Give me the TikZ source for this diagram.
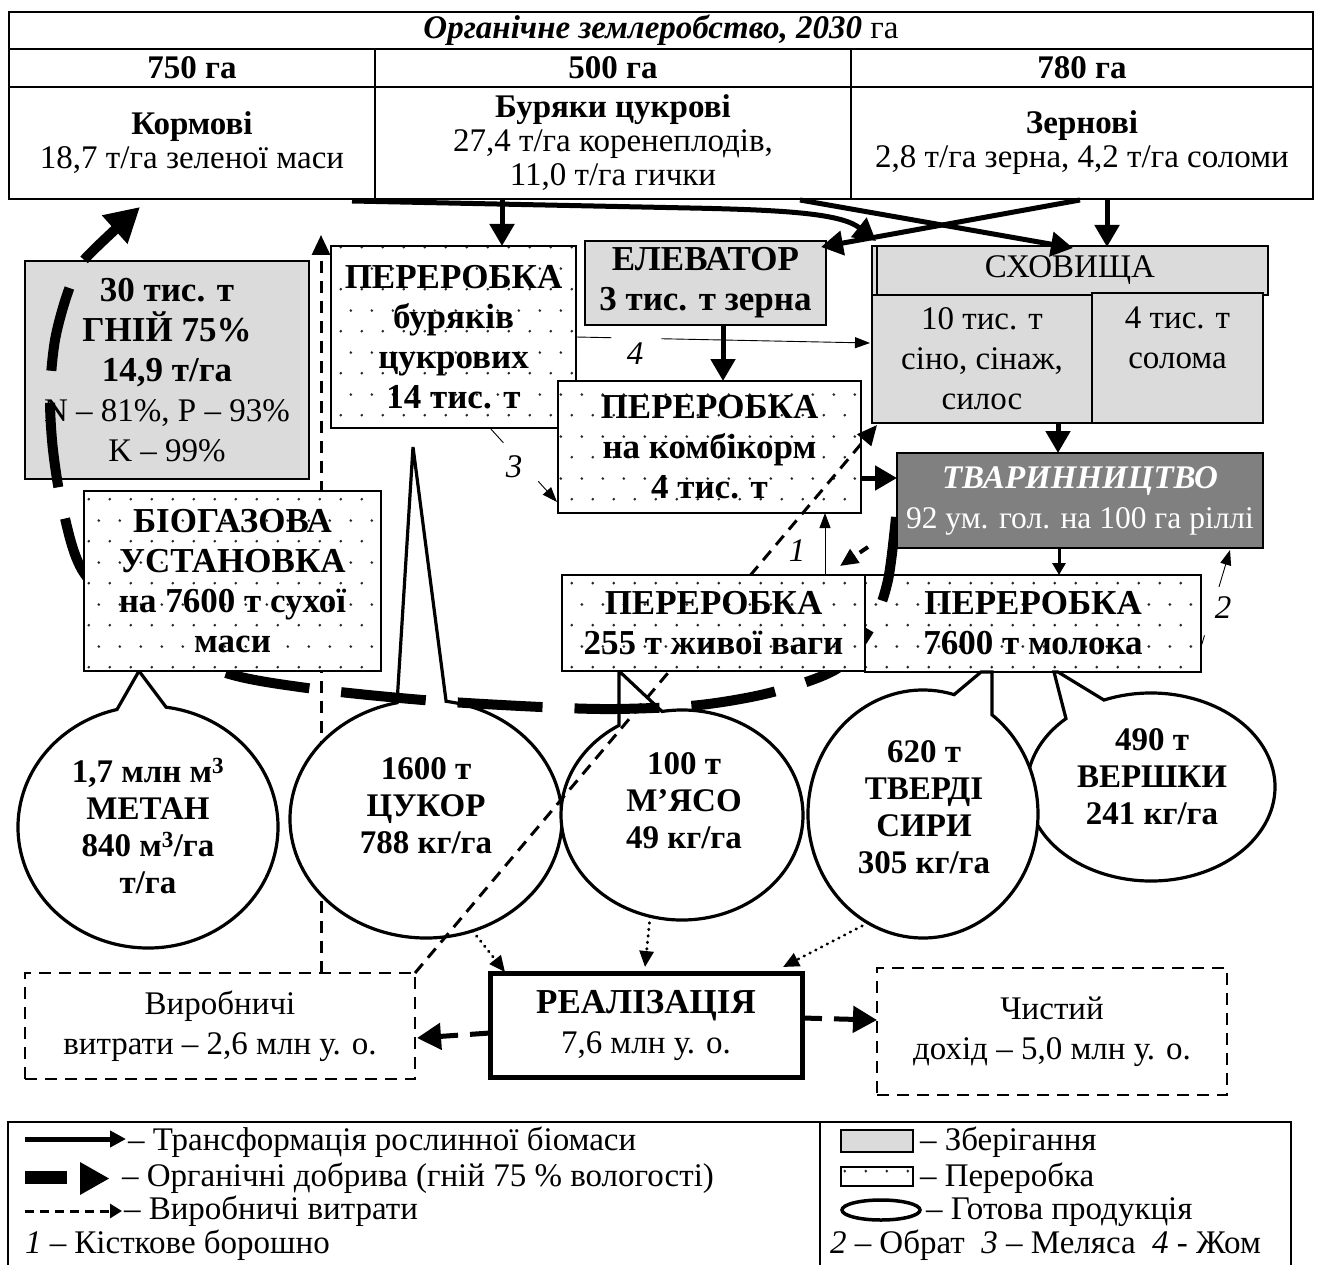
\documentclass[tikz,border=0pt]{standalone}
\usepackage{fontspec}
\setmainfont{Liberation Serif}
\usetikzlibrary{arrows.meta,patterns.meta,calc}
\definecolor{storegray}{gray}{0.86}
\definecolor{livegray}{gray}{0.5}
\definecolor{dotgray}{gray}{0.15}
\newcommand{\dgmfs}{\fontsize{33}{40}\selectfont}
\newcommand{\dgmbig}{\fontsize{35}{40}\selectfont}
\newcommand{\dgmtab}{\fontsize{33}{34}\selectfont}
\newcommand{\dgmcirc}{\fontsize{33}{37}\selectfont}
\newcommand{\dgmB}[1]{{\dgmbig\bfseries #1}}
\tikzdeclarepattern{
  name=pdots,
  type=colored,
  bottom left={(0pt,0pt)},
  top right={(21pt,42pt)},
  tile size={(21pt,42pt)},
  code={
    \fill[dotgray] (5pt,10pt) circle [radius=1.5pt];
    \fill[dotgray] (15.5pt,31pt) circle [radius=1.5pt];
  }
}
\tikzset{
  cell/.style={draw, line width=1.8pt, align=center},
  storebox/.style={draw, line width=1.6pt, fill=storegray, align=center, font=\dgmfs},
  procbox/.style={draw, line width=1.6pt, preaction={fill=white}, pattern=pdots, align=center, font=\dgmbig\bfseries},
  livebox/.style={draw, line width=1.6pt, fill=livegray, text=white, align=center, font=\dgmfs},
  moneybox/.style={draw, line width=2pt, dash pattern=on 12pt off 8pt, align=center, font=\dgmfs},
  salebox/.style={draw, line width=5pt, fill=white, align=center, font=\dgmfs},
  bubble/.style={draw, line width=3.2pt, fill=white, line join=miter},
  bubtext/.style={align=center, font=\dgmcirc\bfseries},
  thickarrow/.style={line width=5pt, -{Triangle[length=22pt,width=24pt]}},
  smallarrow/.style={line width=3pt, -{Triangle[length=12pt,width=13pt]}},
  thinarrow/.style={line width=0.9pt, -{Triangle[length=15pt,width=11pt]}},
  thinline/.style={line width=0.9pt},
  dashshort/.style={line width=4pt, dash pattern=on 10pt off 6pt, -{Triangle[length=18pt,width=16pt]}},
  manure/.style={line width=10pt, dash pattern=on 85pt off 32pt, -{Triangle[length=34pt,width=36pt]}},
  costline/.style={line width=3pt, dash pattern=on 12pt off 8pt, -{Triangle[length=20pt,width=18pt]}},
  saleline/.style={line width=3pt, dash pattern=on 0.5pt off 6pt, line cap=round, -{Triangle[length=16pt,width=14pt]}},
  moneyline/.style={line width=5pt, dash pattern=on 20pt off 12pt, -{Triangle[length=24pt,width=26pt]}},
  numlbl/.style={font=\dgmfs\itshape},
}
\begin{document}
\begin{tikzpicture}[x=1pt,y=-1pt,font=\dgmfs,every node/.style={inner sep=0pt,outer sep=0pt}]
\useasboundingbox (0,0) rectangle (1319,1265);
\clip (0,0) rectangle (1319,1265);

% ---------- top table
\node[cell, minimum width=1304, minimum height=37] (title) at (661,30.5) {\textbf{\textit{Органічне землеробство, 2030}} га};
\node[cell, minimum width=366, minimum height=38, font=\dgmfs\bfseries] (ha1) at (192,68) {750 га};
\node[cell, minimum width=476, minimum height=38, font=\dgmfs\bfseries] (ha2) at (613,68) {500 га};
\node[cell, minimum width=462, minimum height=38, font=\dgmfs\bfseries] (ha3) at (1082,68) {780 га};
\node[cell, minimum width=366, minimum height=112, font=\dgmtab] (korm) at (192,143) {\textbf{Кормові}\\18,7 т/га зеленої маси};
\node[cell, minimum width=476, minimum height=112, font=\dgmtab] (beet) at (613,143) {\textbf{Буряки цукрові}\\27,4 т/га коренеплодів,\\11,0 т/га гички};
\node[cell, minimum width=462, minimum height=112, font=\dgmtab] (grain) at (1082,143) {\textbf{Зернові}\\2,8 т/га зерна, 4,2 т/га соломи};

% ---------- boxes (lower layer)
\node[storebox, minimum width=284, minimum height=218] (manurebox) at (167,370) {\dgmB{30 тис. т}\\\dgmB{ГНІЙ 75\%}\\\dgmB{14,9 т/га}\\N – 81\%, P – 93\%\\K – 99\%};
\node[procbox, minimum width=245, minimum height=182] (beetproc) at (453.5,337) {ПЕРЕРОБКА\\буряків\\цукрових\\14 тис. т};
\node[storebox, minimum width=241, minimum height=84, font=\dgmbig\bfseries] (elev) at (705.5,283) {ЕЛЕВАТОР\\3 тис. т зерна};
\node[storebox, minimum width=396, minimum height=49] (storehead) at (1070,270.5) {СХОВИЩА};
\draw[line width=1.2pt] ($(storehead.north west)+(5,0)$) -- ($(storehead.south west)+(5,0)$);
\node[storebox, minimum width=220, minimum height=128] (silage) at (982,359) {10 тис. т\\сіно, сінаж,\\силос};
\node[storebox, minimum width=171, minimum height=130] (straw) at (1177.5,358) {4 тис. т\\солома\\\mbox{}};
\node[procbox, minimum width=303, minimum height=132] (feedproc) at (709.5,447) {ПЕРЕРОБКА\\на комбікорм\\4 тис. т};
\node[procbox, minimum width=336, minimum height=97] (milkproc) at (1033,623.5) {ПЕРЕРОБКА\\7600 т молока};
\node[moneybox, minimum width=390, minimum height=106] (costs) at (220,1026) {Виробничі\\витрати – 2,6 млн у. о.};
\node[moneybox, minimum width=350, minimum height=127] (net) at (1052,1031.5) {Чистий\\дохід – 5,0 млн у. о.};
\node[salebox, minimum width=312, minimum height=104] (sales) at (646,1025) {\dgmB{РЕАЛІЗАЦІЯ}\\7,6 млн у. о.};

% ---------- vertical cost line (under biogas box and sugar bubble)
\coordinate (vtop) at (321,235);
\draw[costline] (costs.north -| vtop) -- (vtop);

% ---------- product bubbles
\coordinate (metc) at (148,827);
\draw[bubble] ($(metc)+(-103.8:130 and 121)$) -- (139,671) -- ($(metc)+(-82:130 and 121)$) arc[start angle=-82, end angle=256.2, x radius=130, y radius=121] -- cycle;
\node[bubtext] (methane) at (148,826) {1,7 млн м\textsuperscript{3}\\МЕТАН\\840 м\textsuperscript{3}/га\\т/га};

\coordinate (sugc) at (426,819);
\draw[bubble] ($(sugc)+(-102.3:136 and 119)$) -- (413,447) -- ($(sugc)+(-81.5:136 and 119)$) arc[start angle=-81.5, end angle=257.7, x radius=136, y radius=119] -- cycle;
\node[bubtext] (sugar) at (426,806) {1600 т\\ЦУКОР\\788 кг/га};

\coordinate (meatc) at (682,815);
\draw[bubble] ($(meatc)+(-121.4:121 and 105)$) -- (619,671) -- ($(meatc)+(-99.5:121 and 105)$) arc[start angle=-99.5, end angle=238.6, x radius=121, y radius=105] -- cycle;
\node[bubtext] (meat) at (684,801) {100 т\\М’ЯСО\\49 кг/га};

\coordinate (crc) at (1151,787);
\draw[bubble] ($(crc)+(-133.3:124 and 94)$) -- (1054,672) -- (1058,672) -- ($(crc)+(-112.3:124 and 94)$) arc[start angle=-112.3, end angle=226.7, x radius=124, y radius=94] -- cycle;
\node[bubtext] (cream) at (1152,777) {490 т\\ВЕРШКИ\\241 кг/га};

\coordinate (chc) at (923,814);
\draw[bubble] ($(chc)+(-53.1:115 and 124)$) -- (992,672) -- (981,672) -- ($(chc)+(-74.3:115 and 124)$) arc[start angle=-74.3, end angle=-413.1, x radius=115, y radius=124] -- cycle;
\node[bubtext] (cheese) at (924,807) {620 т\\ТВЕРДІ\\СИРИ\\305 кг/га};

% ---------- organic fertiliser loop
\coordinate (manstart) at (896,517);
\coordinate (kormin) at ($(korm.south)+(-52,8)$);
\draw[manure] plot[smooth, tension=0.5] coordinates {(manstart) (888,580) (872,625) (838,668) (773,692) (700,705) (616,709) (541,707) (423,700) (307,688) (223,672) (145,632) (84,573) (63,510) (53,450) (50,395) (55,340) (68,292) (84,260) (kormin)};

% ---------- diagonal cost line
\draw[costline] (costs.north east) -- ($(silage.south west)+(5,2)$);

% ---------- upper-layer boxes
\node[livebox, minimum width=366, minimum height=95] (live) at (1080,500.5) {\textbf{\textit{ТВАРИННИЦТВО}}\\{\fontsize{31.5}{38}\selectfont 92 ум. гол. на 100 га ріллі}};
\node[procbox, minimum width=297, minimum height=180] (biogas) at (232.5,581) {БІОГАЗОВА\\УСТАНОВКА\\на 7600 т сухої\\маси};
\node[procbox, minimum width=303, minimum height=96] (meatproc) at (713.5,623) {ПЕРЕРОБКА\\255 т живої ваги};

% ---------- arrows from the fields
\draw[thickarrow] ($(korm.south east)+(-23,2)$) -- (690,208) .. controls (790,210) and (842,214) .. ($(storehead.north west)+(4,-5)$);
\draw[thickarrow] ($(beet.south east)+(-51,1)$) -- ($(storehead.north)+(3,2)$);
\draw[thickarrow] ($(grain.south west)+(229,1)$) -- ($(elev.north east)+(-5,6)$);
\draw[thickarrow] ($(beet.south west)+(127,1)$) -- ($(beetproc.north west)+(171,0)$);
\draw[thickarrow] ($(grain.south west)+(256,1)$) -- ($(storehead.north west)+(235,1)$);
\draw[thickarrow] ($(elev.south)+(17.5,0)$) -- ($(feedproc.north)+(13.5,0)$);
\draw[thickarrow] ($(feedproc.east)+(0,31)$) -- ($(live.west)+(0,-22.5)$);
\draw[thickarrow] ($(silage.south east)+(-34,0)$) -- ($(live.north)+(-22,0)$);
\draw[smallarrow] ($(live.south)+(-21,0)$) -- ($(milkproc.north)+(26,0)$);
\draw[dashshort] ($(live.south west)+(-29,-1)$) -- ($(meatproc.north east)+(-25,-9)$);

% ---------- thin by-product arrows
\coordinate (t4) at ($(silage.west)+(-2,-16)$);
\draw[thinline] (beetproc.east) -- ($(beetproc.east)!0.12!(t4)$);
\draw[thinarrow] ($(beetproc.east)!0.29!(t4)$) -- (t4);
\node[numlbl] (l4) at (635,354) {4};

\coordinate (s3) at ($(beetproc.south west)+(159,0)$);
\coordinate (t3) at ($(feedproc.south west)+(-1,-11)$);
\draw[thinline] (s3) -- ($(s3)!0.2!(t3)$);
\draw[thinarrow] ($(s3)!0.72!(t3)$) -- (t3);
\node[numlbl] (l3) at (514,467) {3};

\draw[thinarrow] ($(meatproc.north)+(111.5,0)$) -- ($(feedproc.south)+(115.5,0)$);
\node[numlbl] (l1) at (797,551) {1};

\coordinate (s2) at ($(milkproc.south east)+(0,-25)$);
\coordinate (t2) at ($(live.south east)+(-33,2)$);
\draw[thinline] (s2) -- ($(s2)!0.12!(t2)$);
\draw[thinarrow] ($(s2)!0.62!(t2)$) -- (t2);
\node[numlbl] (l2) at (1223,608) {2};

% ---------- sales
\draw[saleline] ($(sugc)+(70:136 and 119)$) -- ($(sales.north west)+(15,-1)$);
\draw[saleline] ($(meatc)+(105.3:121 and 105)$) -- ($(sales.north)+(-1,-6)$);
\draw[saleline] ($(chc)+(118.6:115 and 124)$) -- ($(sales.north east)+(-19,-6)$);
\draw[moneyline] ($(sales.west)+(0,8)$) -- ($(costs.east)+(2,12)$);
\draw[moneyline] ($(sales.east)+(0,-7)$) -- ($(net.west)+(0,-11.5)$);

% ---------- legend
\node[draw, line width=1.8pt, minimum width=1283, minimum height=170] (legend) at (649.5,1207) {};
\draw[line width=1.8pt] ($(legend.north west)+(812,0)$) -- ($(legend.south west)+(812,0)$);
\draw[line width=5pt, -{Triangle[length=16pt,width=16pt]}] (25,1139) -- (126,1139);
\node[anchor=base west] (lg1) at (128,1150) {– Трансформація рослинної біомаси};
\fill (25,1171) rectangle (67,1184);
\fill (80,1162) -- (109,1178.5) -- (80,1195) -- cycle;
\node[anchor=base west] (lg2) at (122,1186) {– Органічні добрива (гній 75 \% вологості)};
\draw[line width=3pt, dash pattern=on 9pt off 6pt, -{Triangle[length=12pt,width=14pt]}] (25,1211) -- (122,1211);
\node[anchor=base west] (lg3) at (124,1219) {– Виробничі витрати};
\node[anchor=base west] (lg4) at (25,1253) {\textit{1} – Кісткове борошно};
\draw[line width=1.6pt, fill=storegray] (841,1130) rectangle (913,1152);
\node[anchor=base west] (lg5) at (920,1150) {– Зберігання};
\draw[line width=1.6pt, preaction={fill=white}, pattern=pdots] (841,1167) rectangle (913,1186);
\node[anchor=base west] (lg6) at (920,1186) {– Переробка};
\draw[line width=3.5pt] (881,1210) ellipse [x radius=39, y radius=10];
\node[anchor=base west] (lg7) at (926,1219) {– Готова продукція};
\node[anchor=base west] (lg8) at (830,1253) {\textit{2} – Обрат\enspace\textit{3} – Меляса\enspace\textit{4} - Жом};
\end{tikzpicture}
\end{document}
